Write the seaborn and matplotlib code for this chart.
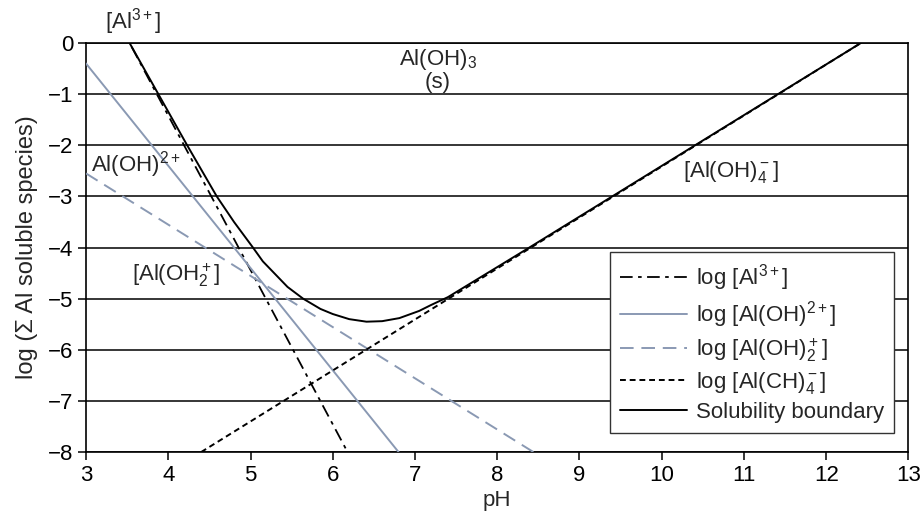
import numpy as np
import pandas as pd
import matplotlib
matplotlib.use('Agg')
import matplotlib.pyplot as plt
import seaborn as sns

# straight species lines (end points)
ph_al3 = [3.0, 6.18]
log_al3 = [1.6, -8.0]
ph_aloh = [3.0, 6.80]
log_aloh = [-0.4, -8.0]
ph_aloh2 = [3.0, 8.44]
log_aloh2 = [-2.55, -8.0]
ph_aloh4 = [4.40, 12.42]
log_aloh4 = [-8.0, 0.0]

# solubility boundary
ph_bound = [3.53, 3.88, 4.23, 4.59, 4.80, 5.03, 5.15, 5.30, 5.45, 5.64, 5.85,
            6.00, 6.20, 6.41, 6.60, 6.81, 7.05, 7.20, 7.40, 8.39, 12.42]
log_bound = [0.0, -1.0, -2.0, -3.0, -3.5, -4.0, -4.27, -4.52, -4.77, -5.0, -5.2,
             -5.3, -5.4, -5.45, -5.44, -5.38, -5.24, -5.12, -4.97, -4.0, 0.0]

xticks = list(range(3, 14))
yticks = list(range(-8, 1))

sns.set_style('ticks')
plt.rcParams['font.family'] = ['Liberation Sans', 'DejaVu Sans']
plt.rcParams['mathtext.fontset'] = 'custom'
plt.rcParams['mathtext.rm'] = 'Liberation Sans'
plt.rcParams['mathtext.it'] = 'Liberation Sans'

fs = 16

fig = plt.figure(figsize=(9.22, 5.19), dpi=100, facecolor='white')
ax = fig.add_axes([0.0933, 0.129, 0.892, 0.788])

blue_gray = '#8a99b3'

for y in yticks:
    ax.axhline(y, color='black', lw=1.1, zorder=1)

sns.lineplot(x=ph_al3, y=log_al3, ax=ax, color='black', lw=1.3,
             label='log [Al$^{3+}$]', zorder=3)
ax.lines[-1].set_dashes([7, 3, 2, 3])
sns.lineplot(x=ph_aloh, y=log_aloh, ax=ax, color=blue_gray, lw=1.4,
             label='log [Al(OH)$^{2+}$]', zorder=3)
sns.lineplot(x=ph_aloh2, y=log_aloh2, ax=ax, color=blue_gray, lw=1.4,
             label='log [Al(OH)$_2^+$]', zorder=3)
ax.lines[-1].set_dashes([7, 4])
sns.lineplot(x=ph_aloh4, y=log_aloh4, ax=ax, color='black', lw=1.4,
             label='log [Al(CH)$_4^-$]', zorder=3)
ax.lines[-1].set_dashes([3, 2])
sns.lineplot(x=ph_bound, y=log_bound, ax=ax, color='black', lw=1.4,
             label='Solubility boundary', zorder=4, sort=False)

ax.set_xlim(3, 13)
ax.set_ylim(-8, 0)
ax.set_xticks(xticks)
ax.set_yticks(yticks)
ax.set_yticklabels(['\u2212' + str(-t) if t < 0 else str(t) for t in yticks])
ax.tick_params(axis='both', direction='out', length=6, width=1.1,
               labelsize=fs, colors='black', pad=3)
for s in ax.spines.values():
    s.set_color('black')
    s.set_linewidth(1.2)

ax.set_xlabel('pH', fontsize=fs, labelpad=3)
ax.set_ylabel('log (\u03a3 Al soluble species)', fontsize=17, labelpad=7)

leg = ax.legend(loc='lower right', bbox_to_anchor=(0.982, 0.046), fontsize=fs,
                frameon=True, fancybox=False, handlelength=3.0,
                handletextpad=0.4, labelspacing=0.28, borderpad=0.45,
                borderaxespad=0)
leg.get_frame().set_edgecolor('#333333')
leg.get_frame().set_linewidth(1.0)
leg.get_frame().set_alpha(1)

ax.text(3.57, 0.12, '[Al$^{3+}$]', fontsize=fs, ha='center', va='bottom')
ax.text(7.28, -0.53, 'Al(OH)$_3$\n(s)', fontsize=fs, ha='center', va='center',
        linespacing=1.0)
ax.text(3.06, -2.38, 'Al(OH)$^{2+}$', fontsize=fs, ha='left', va='center')
ax.text(3.56, -4.55, '[Al(OH$_2^+$]', fontsize=fs, ha='left', va='center')
ax.text(10.84, -2.52, '[Al(OH)$_4^-$]', fontsize=fs, ha='center', va='center')

fig.savefig('out.png', dpi=100, facecolor='white')
